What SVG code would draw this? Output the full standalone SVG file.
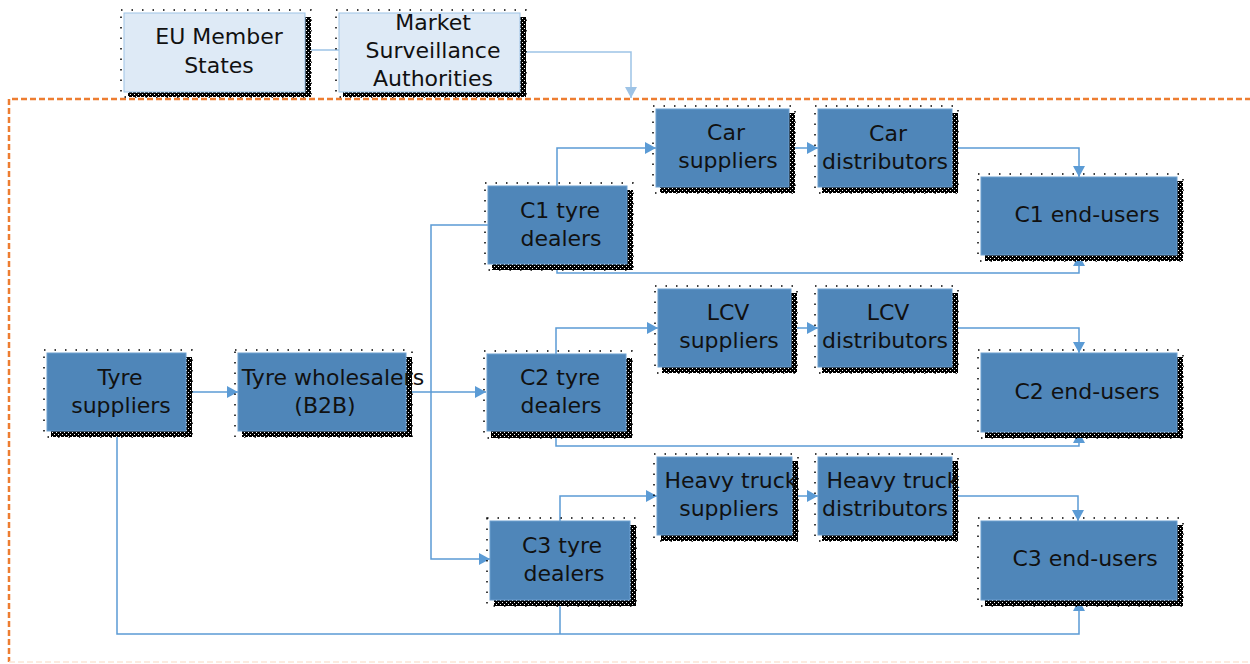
<svg xmlns="http://www.w3.org/2000/svg" width="1250" height="664" viewBox="0 0 1250 664">
<style>
.box{fill:#4F86B9;stroke:#6C9FD0;stroke-width:1}
.lbox{fill:#DEEAF6;stroke:#9DC3E6;stroke-width:1}
.sh{fill:url(#dots)}
.sho{fill:none;stroke:#000;stroke-width:1.5;stroke-dasharray:1.5 9}
.t{font-family:"DejaVu Sans",Verdana,sans-serif;font-size:22px;fill:#111;text-anchor:middle}
.c{fill:none;stroke:#5B9BD5;stroke-width:1.5}
.cl{fill:none;stroke:#9DC3E6;stroke-width:1.5}
</style>
<defs>
<pattern id="dots" width="4" height="4" patternUnits="userSpaceOnUse">
<rect width="4" height="4" fill="#000"/>
<rect x="0" y="0" width="1" height="1" fill="#fff"/>
<rect x="2" y="2" width="1" height="1" fill="#fff"/>
</pattern>
<marker id="a" markerUnits="userSpaceOnUse" markerWidth="13" markerHeight="13" refX="11" refY="6" orient="auto">
<path d="M0,0 L11,6 L0,12 z" fill="#5B9BD5"/>
</marker>
<marker id="al" markerUnits="userSpaceOnUse" markerWidth="13" markerHeight="13" refX="11" refY="6" orient="auto">
<path d="M0,0 L11,6 L0,12 z" fill="#9DC3E6"/>
</marker>
</defs>
<rect width="1250" height="664" fill="#fff"/>

<g id="container">
<path d="M1260,99 L9,99 L9,662" fill="none" stroke="#ED7D31" stroke-width="2.5" stroke-dasharray="6 3"/>
<path d="M9,662 L1260,662" fill="none" stroke="#FBE5D6" stroke-width="1.5" stroke-dasharray="6 3"/>
</g>

<g id="connectors">
<path class="cl" d="M305,50 L339,50"/>
<path class="cl" d="M520,52 L631,52 L631,98" marker-end="url(#al)"/>
<path class="c" d="M186,392 L238,392" marker-end="url(#a)"/>
<path class="c" d="M406,392 L486,392" marker-end="url(#a)"/>
<path class="c" d="M488,225 L431,225 L431,559 L490,559" marker-end="url(#a)"/>
<path class="c" d="M557,186 L557,148 L656,148" marker-end="url(#a)"/>
<path class="c" d="M789,148 L818,148" marker-end="url(#a)"/>
<path class="c" d="M952,148 L1079,148 L1079,177" marker-end="url(#a)"/>
<path class="c" d="M557,264 L557,273 L1079,273 L1079,255" marker-end="url(#a)"/>
<path class="c" d="M556,354 L556,328 L658,328" marker-end="url(#a)"/>
<path class="c" d="M791,328 L818,328" marker-end="url(#a)"/>
<path class="c" d="M952,328 L1079,328 L1079,353" marker-end="url(#a)"/>
<path class="c" d="M556,431 L556,446 L1079,446 L1079,432" marker-end="url(#a)"/>
<path class="c" d="M560,521 L560,496 L657,496" marker-end="url(#a)"/>
<path class="c" d="M792,496 L818,496" marker-end="url(#a)"/>
<path class="c" d="M952,496 L1078,496 L1078,521" marker-end="url(#a)"/>
<path class="c" d="M117,431 L117,634 L1079,634 L1079,600" marker-end="url(#a)"/>
<path class="c" d="M560,600 L560,634"/>
</g>

<g id="eu">
<rect class="sho" x="121" y="10" width="190" height="87"/>
<rect class="sh" x="128" y="17" width="183" height="80"/>
<rect class="lbox" x="124" y="13" width="181" height="79"/>
<text class="t" x="219" y="44">EU Member</text>
<text class="t" x="219" y="73">States</text>
</g>
<g id="msa">
<rect class="sho" x="336" y="10" width="190" height="87"/>
<rect class="sh" x="343" y="17" width="183" height="80"/>
<rect class="lbox" x="339" y="13" width="181" height="79"/>
<text class="t" x="433" y="30">Market</text>
<text class="t" x="433" y="58">Surveillance</text>
<text class="t" x="433" y="86">Authorities</text>
</g>

<g id="tyre-suppliers">
<rect class="sho" x="44" y="350" width="148" height="87"/>
<rect class="sh" x="51" y="357" width="141" height="80"/>
<rect class="box" x="47" y="353" width="139" height="78"/>
<text class="t" x="120" y="385">Tyre</text>
<text class="t" x="121" y="413">suppliers</text>
</g>
<g id="tyre-wholesalers">
<rect class="sho" x="235" y="350" width="177" height="87"/>
<rect class="sh" x="242" y="357" width="170" height="80"/>
<rect class="box" x="238" y="353" width="168" height="78"/>
<text class="t" x="333" y="385">Tyre wholesalers</text>
<text class="t" x="325" y="413">(B2B)</text>
</g>

<g id="c1-dealers">
<rect class="sho" x="485" y="183" width="148" height="87"/>
<rect class="sh" x="492" y="190" width="141" height="80"/>
<rect class="box" x="488" y="186" width="139" height="78"/>
<text class="t" x="560" y="218">C1 tyre</text>
<text class="t" x="561" y="246">dealers</text>
</g>
<g id="car-suppliers">
<rect class="sho" x="653" y="106" width="142" height="87"/>
<rect class="sh" x="660" y="113" width="135" height="80"/>
<rect class="box" x="656" y="109" width="133" height="78"/>
<text class="t" x="726" y="140">Car</text>
<text class="t" x="728" y="168">suppliers</text>
</g>
<g id="car-distributors">
<rect class="sho" x="815" y="106" width="143" height="87"/>
<rect class="sh" x="822" y="113" width="136" height="80"/>
<rect class="box" x="818" y="109" width="134" height="78"/>
<text class="t" x="888" y="141">Car</text>
<text class="t" x="885" y="169">distributors</text>
</g>
<g id="c1-end-users">
<rect class="sho" x="978" y="174" width="205" height="87"/>
<rect class="sh" x="985" y="181" width="198" height="80"/>
<rect class="box" x="981" y="177" width="196" height="78"/>
<text class="t" x="1087" y="222">C1 end-users</text>
</g>

<g id="c2-dealers">
<rect class="sho" x="484" y="351" width="148" height="87"/>
<rect class="sh" x="491" y="358" width="141" height="80"/>
<rect class="box" x="487" y="354" width="139" height="77"/>
<text class="t" x="560" y="385">C2 tyre</text>
<text class="t" x="561" y="413">dealers</text>
</g>
<g id="lcv-suppliers">
<rect class="sho" x="655" y="286" width="142" height="87"/>
<rect class="sh" x="662" y="293" width="135" height="80"/>
<rect class="box" x="658" y="289" width="133" height="78"/>
<text class="t" x="728" y="320">LCV</text>
<text class="t" x="729" y="348">suppliers</text>
</g>
<g id="lcv-distributors">
<rect class="sho" x="815" y="286" width="143" height="87"/>
<rect class="sh" x="822" y="293" width="136" height="80"/>
<rect class="box" x="818" y="289" width="134" height="78"/>
<text class="t" x="888" y="320">LCV</text>
<text class="t" x="885" y="348">distributors</text>
</g>
<g id="c2-end-users">
<rect class="sho" x="978" y="350" width="205" height="88"/>
<rect class="sh" x="985" y="357" width="198" height="81"/>
<rect class="box" x="981" y="353" width="196" height="79"/>
<text class="t" x="1087" y="399">C2 end-users</text>
</g>

<g id="c3-dealers">
<rect class="sho" x="487" y="518" width="149" height="88"/>
<rect class="sh" x="494" y="525" width="142" height="81"/>
<rect class="box" x="490" y="521" width="140" height="79"/>
<text class="t" x="562" y="553">C3  tyre</text>
<text class="t" x="564" y="581">dealers</text>
</g>
<g id="ht-suppliers">
<rect class="sho" x="654" y="454" width="144" height="87"/>
<rect class="sh" x="661" y="461" width="137" height="80"/>
<rect class="box" x="657" y="457" width="135" height="78"/>
<text class="t" x="731" y="488">Heavy truck</text>
<text class="t" x="729" y="516">suppliers</text>
</g>
<g id="ht-distributors">
<rect class="sho" x="815" y="454" width="143" height="87"/>
<rect class="sh" x="822" y="461" width="136" height="80"/>
<rect class="box" x="818" y="457" width="134" height="78"/>
<text class="t" x="893" y="488">Heavy truck</text>
<text class="t" x="885" y="516">distributors</text>
</g>
<g id="c3-end-users">
<rect class="sho" x="978" y="518" width="205" height="88"/>
<rect class="sh" x="985" y="525" width="198" height="81"/>
<rect class="box" x="981" y="521" width="196" height="79"/>
<text class="t" x="1085" y="566">C3 end-users</text>
</g>
</svg>
